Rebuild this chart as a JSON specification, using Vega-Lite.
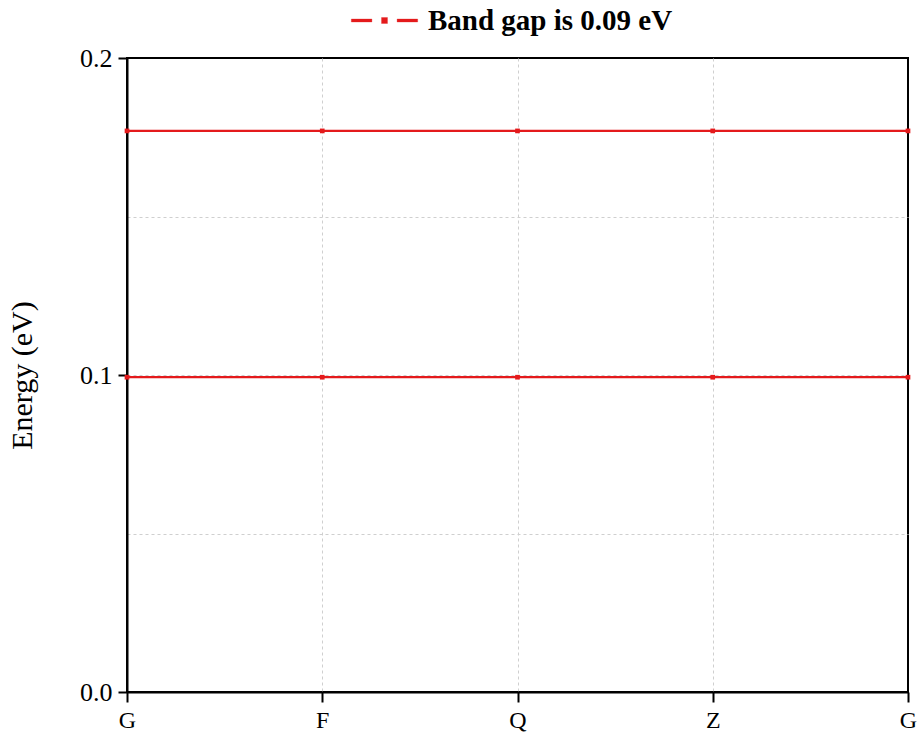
{
  "$schema": "https://vega.github.io/schema/vega-lite/v6.json",
  "autosize": {"type": "none"},
  "padding": {"left": 127, "top": 58, "right": 15, "bottom": 44},
  "width": 781,
  "height": 634,
  "background": "white",
  "config": {
    "view": {"stroke": "black", "strokeWidth": 2},
    "font": "Liberation Serif"
  },
  "data": {
    "values": [
      {"k": 0, "band": "upper", "energy": 0.177},
      {"k": 1, "band": "upper", "energy": 0.177},
      {"k": 2, "band": "upper", "energy": 0.177},
      {"k": 3, "band": "upper", "energy": 0.177},
      {"k": 4, "band": "upper", "energy": 0.177},
      {"k": 0, "band": "lower", "energy": 0.0993},
      {"k": 1, "band": "lower", "energy": 0.0993},
      {"k": 2, "band": "lower", "energy": 0.0993},
      {"k": 3, "band": "lower", "energy": 0.0993},
      {"k": 4, "band": "lower", "energy": 0.0993}
    ]
  },
  "encoding": {
    "x": {
      "field": "k",
      "type": "quantitative",
      "scale": {"domain": [0, 4], "nice": false, "zero": false},
      "axis": {
        "title": null,
        "values": [0, 1, 2, 3, 4],
        "labelExpr": "['G','F','Q','Z','G'][datum.value]",
        "labelFont": "Liberation Serif",
        "labelFontSize": 24,
        "labelColor": "black",
        "labelPadding": 6,
        "labelDx": 4,
        "labelFlush": false,
        "labelBound": false,
        "domainColor": "black",
        "domainWidth": 2,
        "tickColor": "black",
        "tickWidth": 2,
        "tickSize": 10,
        "grid": true,
        "gridColor": "#cfcfcf",
        "gridDash": [3, 3],
        "gridWidth": 1,
        "gridOpacity": {"condition": {"test": "datum.value == 0 || datum.value == 4", "value": 0}, "value": 1}
      }
    },
    "y": {
      "field": "energy",
      "type": "quantitative",
      "scale": {"domain": [0, 0.2], "nice": false},
      "axis": {
        "title": "Energy (eV)",
        "titleFont": "Liberation Serif",
        "titleFontSize": 30,
        "titleFontWeight": "normal",
        "titleColor": "black",
        "titlePadding": 42,
        "values": [0, 0.05, 0.1, 0.15, 0.2],
        "labelExpr": "(abs(datum.value-0.05)<1e-6 || abs(datum.value-0.15)<1e-6) ? '' : format(datum.value, '.1f')",
        "labelFont": "Liberation Serif",
        "labelFontSize": 26,
        "labelColor": "black",
        "labelPadding": 6,
        "domainColor": "black",
        "domainWidth": 2,
        "tickColor": "black",
        "tickWidth": 2,
        "tickSize": 9,
        "tickOpacity": {"condition": {"test": "abs(datum.value-0.05)<1e-6 || abs(datum.value-0.15)<1e-6", "value": 0}, "value": 1},
        "grid": true,
        "gridColor": "#cfcfcf",
        "gridDash": [3, 3],
        "gridWidth": 1,
        "gridOpacity": {"condition": {"test": "datum.value < 0.01 || datum.value > 0.19", "value": 0}, "value": 1}
      }
    }
  },
  "layer": [
    {
      "mark": {"type": "line", "strokeWidth": 2.2},
      "encoding": {
        "detail": {"field": "band"},
        "color": {
          "datum": "Band gap is 0.09 eV",
          "type": "nominal",
          "scale": {"range": ["#e41a1c"]},
          "legend": {
            "title": null,
            "orient": "none",
            "legendX": 224,
            "legendY": -71,
            "symbolType": "M-1,-0.045H-0.38V0.045H-1Z M-0.09,-0.09H0.09V0.09H-0.09Z M0.38,-0.045H1V0.045H0.38Z",
            "symbolSize": 4400,
            "symbolFillColor": "#e41a1c",
            "symbolStrokeColor": "#e41a1c",
            "symbolStrokeWidth": 0.3,
            "labelFont": "Liberation Serif",
            "labelFontSize": 29,
            "labelFontWeight": "bold",
            "labelColor": "black",
            "labelOffset": 10,
            "labelLimit": 500
          }
        }
      }
    },
    {
      "mark": {"type": "point", "shape": "square", "filled": true, "size": 22, "color": "#e41a1c", "opacity": 1}
    }
  ]
}
